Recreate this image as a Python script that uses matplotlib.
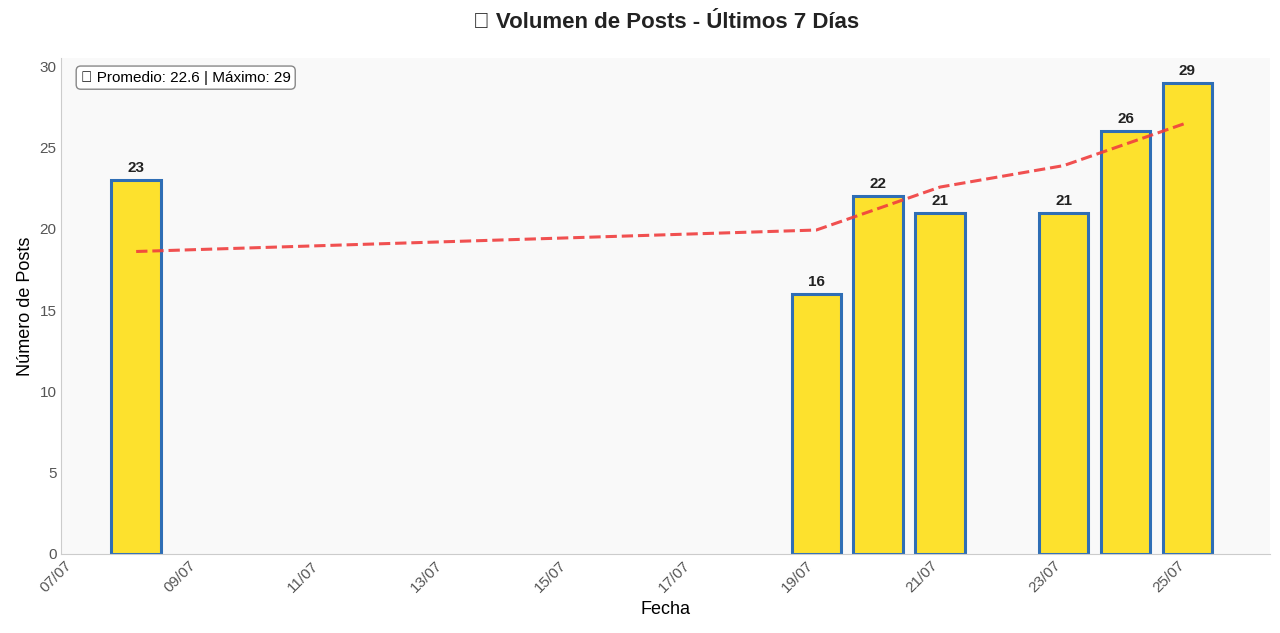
import matplotlib
matplotlib.use("Agg")
import matplotlib.pyplot as plt
import matplotlib.dates as mdates
import numpy as np
import pandas as pd

plt.rcParams['font.family'] = ['Liberation Sans', 'DejaVu Sans']

dates = ["2025-07-08", "2025-07-19", "2025-07-20", "2025-07-21", "2025-07-23", "2025-07-24", "2025-07-25"]
posts = [23, 16, 22, 21, 21, 26, 29]

x = pd.to_datetime(dates)
fig, ax = plt.subplots(figsize=(12.8, 6.33), dpi=100)
fig.patch.set_facecolor("white")
ax.set_facecolor("#f9f9f9")

ax.bar(x, posts, width=0.8, color="#fde12d", edgecolor="#2f6eb5", linewidth=2.2)
for xi, v in zip(x, posts):
    ax.text(xi, v + 0.3, str(v), ha="center", va="bottom", fontsize=11, fontweight="bold", color="#222")

idx = np.arange(len(posts))
coef = np.polyfit(idx, posts, 1)
ax.plot(x, np.polyval(coef, idx), "--", color="#f03e3e", linewidth=2.2, alpha=0.9)

ax.set_ylim(0, 30.5)
ax.set_xlim(pd.Timestamp("2025-07-06 19:00"), pd.Timestamp("2025-07-26 08:00"))
ax.xaxis.set_major_locator(mdates.DayLocator(bymonthday=range(7, 32, 2)))
ax.xaxis.set_major_formatter(mdates.DateFormatter("%d/%m"))
plt.setp(ax.get_xticklabels(), rotation=45, ha="right")
ax.tick_params(colors="#555", labelsize=11, length=0)
for s in ["top", "right"]:
    ax.spines[s].set_visible(False)
for s in ["left", "bottom"]:
    ax.spines[s].set_color("#cccccc")

ax.set_xlabel("Fecha", fontsize=13)
ax.set_ylabel("Número de Posts", fontsize=13)
ax.set_title("📊 Volumen de Posts - Últimos 7 Días", fontsize=16, fontweight="bold", pad=22, color="#222")

avg = np.mean(posts)
ax.text(0.016, 0.975, f"📈 Promedio: {avg:.1f} | Máximo: {max(posts)}", transform=ax.transAxes,
        fontsize=11, va="top", ha="left",
        bbox=dict(boxstyle="round,pad=0.3", facecolor="white", edgecolor="#888"))

plt.subplots_adjust(left=0.048, right=0.992, top=0.908, bottom=0.125)
fig.savefig("out.png", dpi=100)
